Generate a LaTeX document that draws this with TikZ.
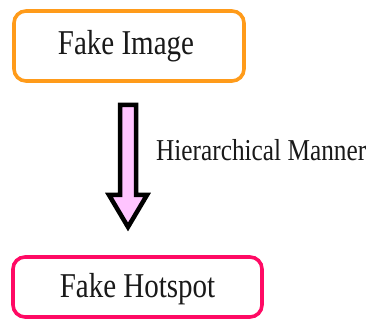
\documentclass[tikz,border=0pt]{standalone}
\usepackage{fontspec}
\usepackage{graphicx}
\setmainfont{Liberation Serif}
\definecolor{boxorange}{HTML}{FF9B1A}
\definecolor{boxpink}{HTML}{FF0A64}
\definecolor{arrowpink}{HTML}{FFC4FF}
\newcommand{\tallt}[1]{\scalebox{1}[1.2]{#1}}
\begin{document}
\begin{tikzpicture}[x=1pt,y=1pt,
  procbox/.style={draw, line width=3.6pt, rounded corners=12pt, fill=white, inner sep=0pt},
  boxtext/.style={font=\fontsize{29}{32}\selectfont, text=black!90}]
\useasboundingbox (0,0) rectangle (373,321);
\node[procbox, draw=boxorange, minimum width=230pt, minimum height=70pt] (img) at (129,275) {};
\node[boxtext] (imgt) at (126,275) {\tallt{Fake Image}};
\node[procbox, draw=boxpink, minimum width=249pt, minimum height=60pt] (hot) at (137.5,34) {};
\node[boxtext] (hott) at (137.5,32) {\tallt{Fake Hotspot}};
\draw[line width=4.5pt, fill=arrowpink, line join=miter]
  (120,216) -- (136,216) -- (136,126) -- (147,126) -- (128,94) -- (109,126) -- (120,126) -- cycle;
\node[font=\fontsize{25.3}{28}\selectfont, anchor=west, inner sep=0pt, text=black!90] (lab) at (156,171) {\tallt{Hierarchical Manner}};
\end{tikzpicture}
\end{document}
